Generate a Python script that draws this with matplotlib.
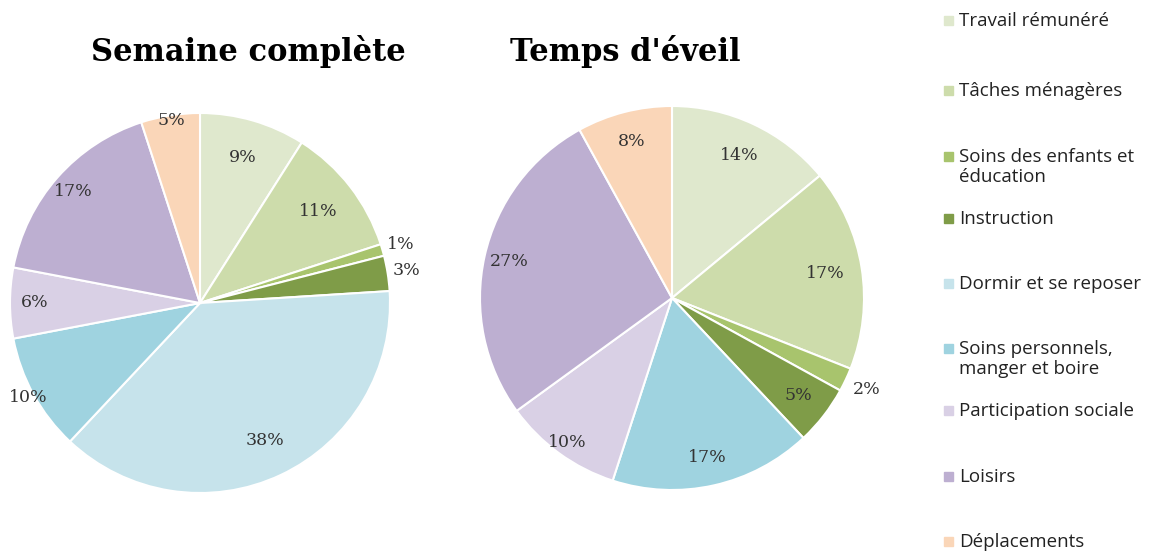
import matplotlib
matplotlib.use("Agg")
import matplotlib.pyplot as plt
import numpy as np
from matplotlib.patches import Rectangle

categories = ["Travail rémunéré", "Tâches ménagères", "Soins des enfants et\néducation",
              "Instruction", "Dormir et se reposer", "Soins personnels,\nmanger et boire",
              "Participation sociale", "Loisirs", "Déplacements"]
semaine = [9, 11, 1, 3, 38, 10, 6, 17, 5]
eveil = [14, 17, 2, 5, 0, 17, 10, 27, 8]

colors = ["#dfe8cd", "#cddcab", "#a8c46d", "#7f9c48", "#c6e3eb",
          "#9fd3e0", "#d9d0e5", "#bdafd1", "#fad6b8"]

W, H = 1153, 553
fig = plt.figure(figsize=(W / 100, H / 100), dpi=100)


def pie_at(cx, cy, r, values, dists, title, tx):
    ax = fig.add_axes([(cx - r) / W, 1 - (cy + r) / H, 2 * r / W, 2 * r / H])
    vals = [v for v in values if v > 0]
    cols = [c for v, c in zip(values, colors) if v > 0]
    wedges, _ = ax.pie(vals, colors=cols, startangle=90, counterclock=False,
                       wedgeprops=dict(edgecolor="white", linewidth=1.5))
    for w, v, d in zip(wedges, vals, dists):
        ang = np.deg2rad((w.theta1 + w.theta2) / 2)
        ax.text(d * np.cos(ang), d * np.sin(ang), f"{v}%", ha="center", va="center",
                fontsize=12.5, family="DejaVu Serif", color="#333333")
    ax.set_xlim(-1, 1)
    ax.set_ylim(-1, 1)
    ax.set_aspect("equal")
    fig.text(tx / W, 1 - 52 / H, title, ha="center", va="center", fontsize=22,
             fontweight="bold", family="DejaVu Serif")


pie_at(200, 303, 190, semaine, [0.8, 0.79, 1.1, 1.1, 0.8, 1.03, 0.87, 0.89, 0.97],
       "Semaine complète", 248)
pie_at(672, 298, 192, eveil, [0.82, 0.81, 1.12, 0.83, 0.85, 0.93, 0.87, 0.84],
       "Temps d'éveil", 625)

# legend placed by hand: the spacing in the source is uneven
leg_y = [22, 92, 158, 220, 285, 350, 412, 478, 543]
for lab, c, y in zip(categories, colors, leg_y):
    fig.patches.append(Rectangle((944 / W, 1 - (y + 3) / H), 9 / W, 9 / H,
                                 transform=fig.transFigure, color=c))
    fig.text(959 / W, 1 - (y - 10) / H, lab, ha="left", va="top", fontsize=13.5,
             family="Open Sans", color="#222222", linespacing=1.15)

fig.savefig("out.png", dpi=100)
